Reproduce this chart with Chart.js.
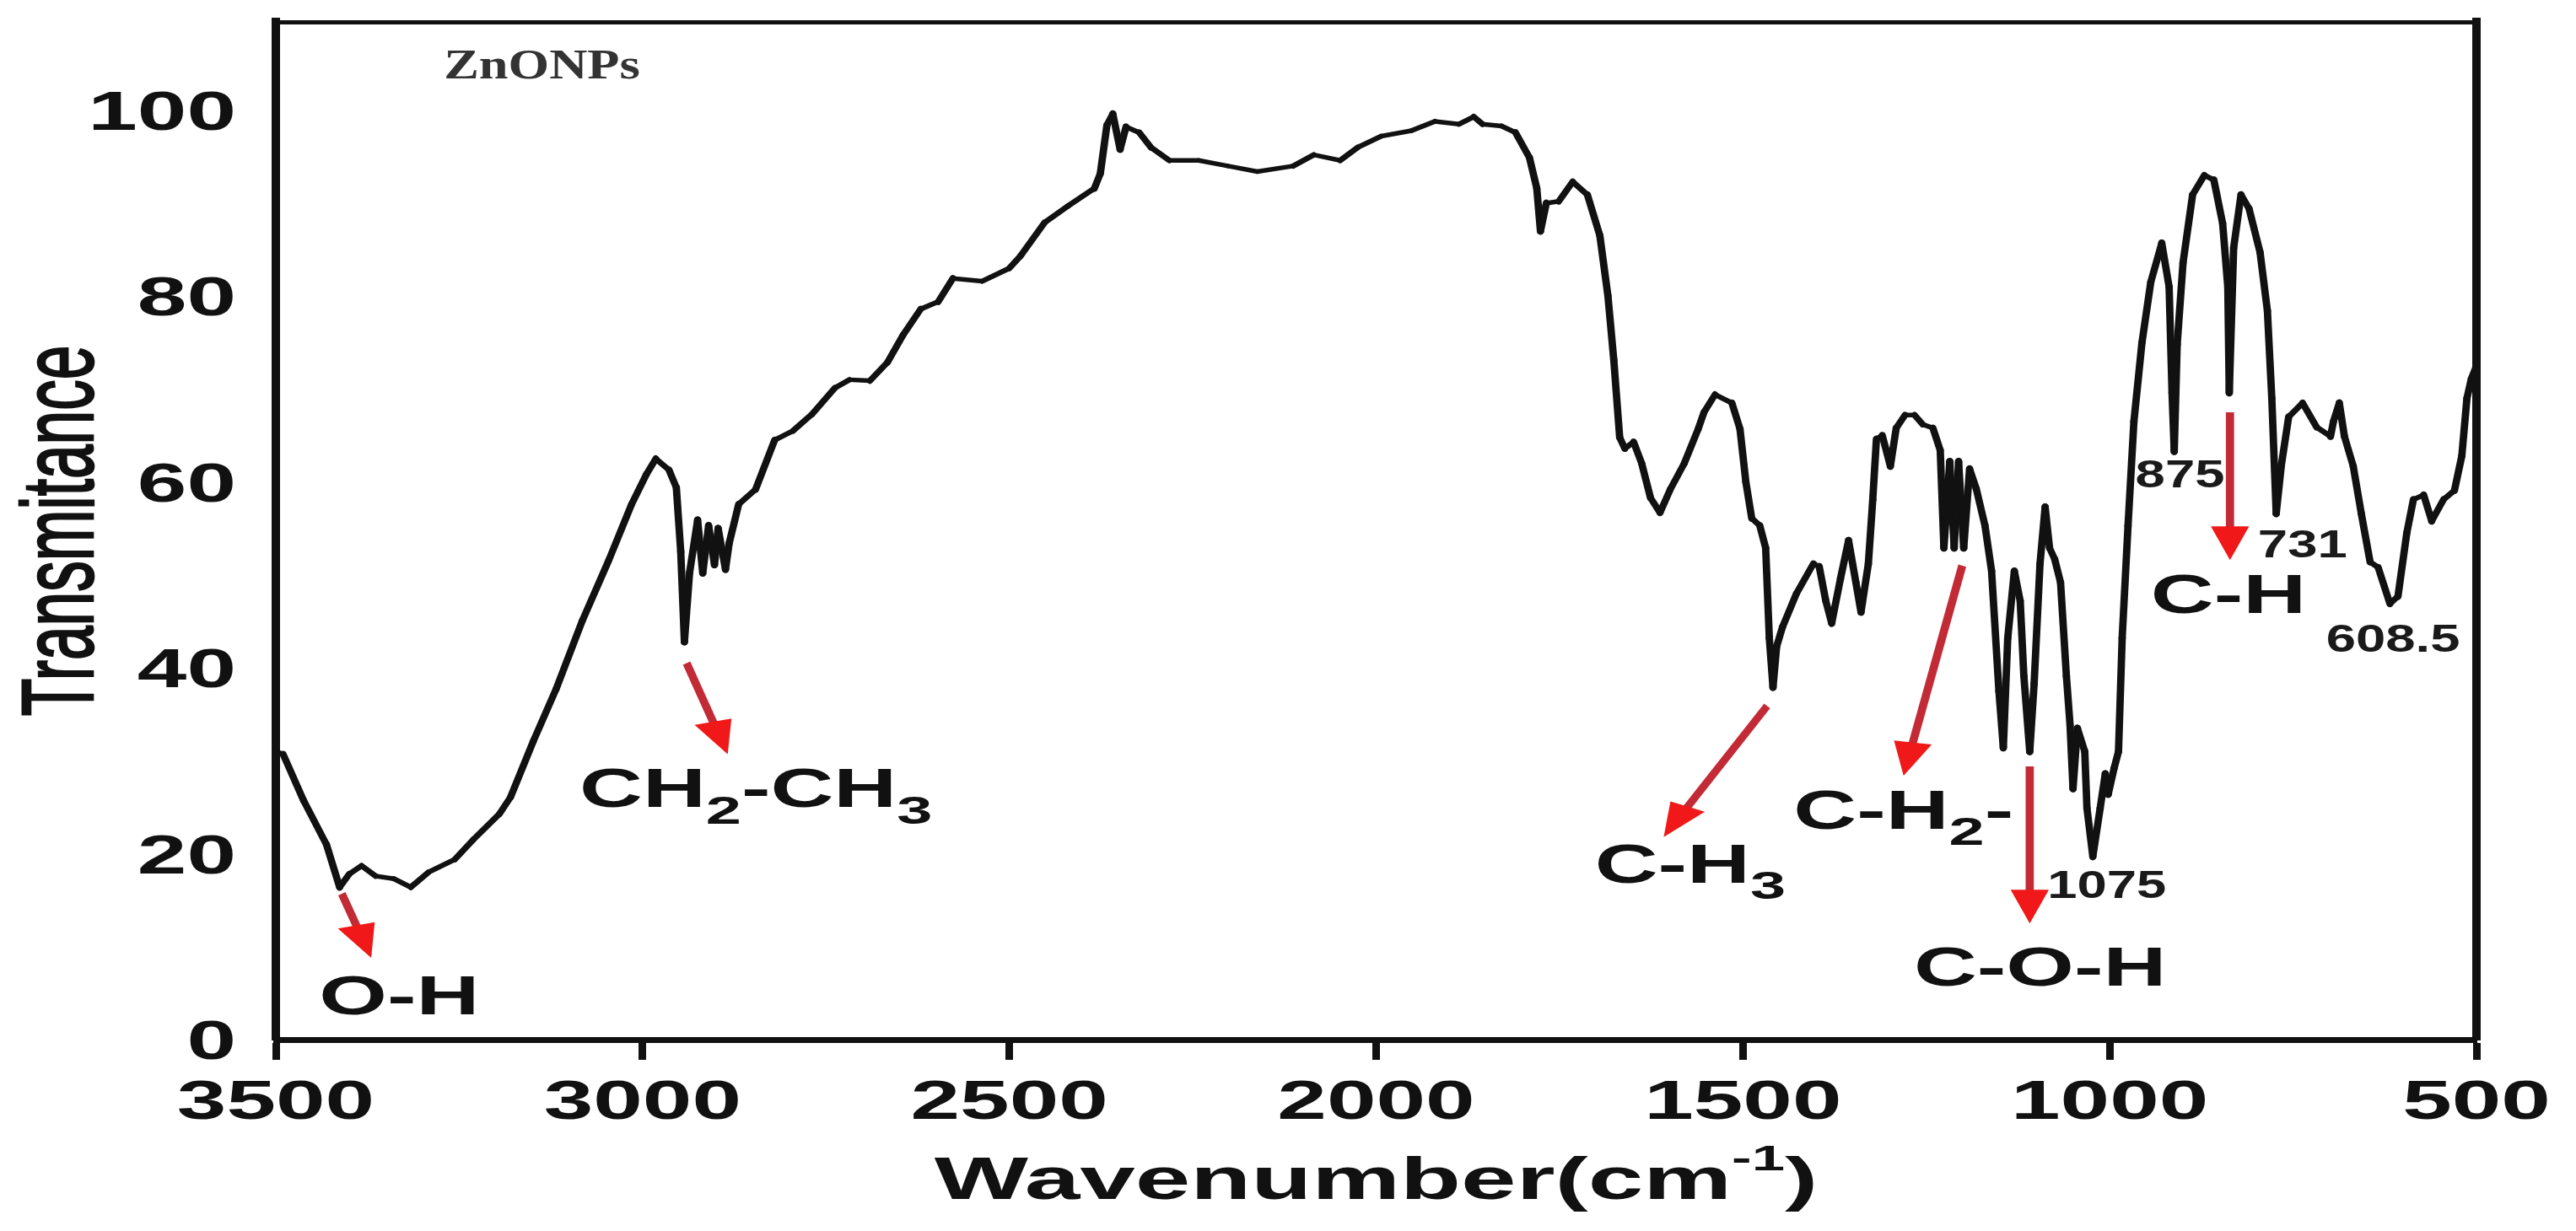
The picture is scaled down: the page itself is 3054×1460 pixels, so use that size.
<!DOCTYPE html>
<html>
<head>
<meta charset="utf-8">
<title>ZnONPs FTIR</title>
<script src="https://cdn.jsdelivr.net/npm/chart.js@4.4.1/dist/chart.umd.min.js"></script>
<style>
  html, body { margin: 0; padding: 0; background: #fff; }
</style>
</head>
<body>
<canvas id="ftir" width="3054" height="1460"></canvas>
<script>
// spectrum, high to low wavenumber
const wavenumber = [
  3500, 3490, 3462, 3431, 3413, 3400, 3383, 3364, 3339, 3316, 3292, 3256, 3231, 3195, 3180,
  3149, 3118, 3082, 3046, 3015, 2995, 2982, 2964, 2954, 2948, 2943, 2936, 2925, 2918, 2910,
  2902, 2897, 2887, 2882, 2869, 2846, 2820, 2795, 2769, 2738, 2718,
  2690, 2666, 2645, 2621, 2597, 2577, 2537, 2500, 2485, 2452, 2420, 2384, 2376, 2367, 2359,
  2349, 2341, 2323, 2307, 2282, 2242, 2202, 2162, 2113, 2085, 2049, 2025, 1993, 1952, 1920,
  1887, 1867, 1855, 1829,
  1810, 1791, 1781, 1776, 1768, 1751, 1732, 1712, 1695, 1684, 1676, 1668, 1661, 1649, 1638,
  1626, 1613, 1599, 1580, 1561, 1553, 1538, 1515, 1504, 1496, 1488, 1477, 1469, 1464, 1459,
  1454, 1446, 1427, 1404, 1396, 1387, 1379, 1367, 1356, 1346, 1339, 1329, 1323, 1318, 1310,
  1299, 1291, 1279, 1266, 1255, 1241, 1231, 1226, 1218, 1212, 1206, 1199, 1191, 1182, 1170,
  1161, 1151, 1145, 1139, 1130, 1122, 1117, 1109, 1103, 1095, 1088, 1082, 1075, 1067, 1059,
  1054, 1050, 1044, 1034, 1031, 1023, 1013, 1006, 1002, 994, 988, 983, 975, 967, 956,
  944, 929, 919, 915, 912, 908, 900, 887, 871, 858, 846, 839, 837, 831, 821,
  810, 795, 785, 779, 773, 766, 756, 737, 718, 699, 695, 687, 680, 668, 657,
  645, 634, 618, 607, 595, 586, 572, 561, 545, 530, 520, 513, 507, 500
];
const transmittance = [
  31.0, 30.7, 25.7, 21.0, 16.4, 17.8, 18.7, 17.6, 17.3, 16.4, 18.0, 19.4, 21.5, 24.3, 26.1,
  32.1, 37.7, 45.1, 51.6, 57.6, 60.8, 62.5, 61.3, 59.4, 52.5, 42.8, 50.2, 55.9, 50.2, 55.3,
  51.1, 55.0, 50.6, 53.4, 57.6, 59.2, 64.5, 65.5, 67.3, 70.1, 71.0,
  70.9, 72.9, 75.8, 78.6, 79.4, 81.9, 81.6, 83.0, 84.3, 87.9, 89.7, 91.6, 93.2, 98.4, 99.6,
  95.8, 98.2, 97.6, 96.0, 94.6, 94.6, 94.0, 93.4, 94.0, 95.2, 94.6, 96.0, 97.2, 97.8, 98.8,
  98.5, 99.3, 98.5, 98.3,
  97.6, 94.9, 91.6, 87.0, 90.0, 90.2, 92.3, 90.9, 86.5, 80.0, 73.1, 64.8, 63.6, 64.3, 62.0,
  58.3, 56.7, 59.2, 62.0, 65.7, 67.5, 69.4, 68.5, 65.7, 60.0, 56.1, 55.3, 52.9, 43.2, 37.9,
  42.3, 44.4, 48.0, 51.2, 50.9, 47.2, 44.8, 49.6, 53.7, 49.2, 46.0, 51.2, 58.1, 64.6, 65.0,
  61.7, 65.8, 67.2, 67.2, 66.2, 65.8, 63.4, 52.9, 62.2, 52.9, 62.2, 52.9, 61.4, 59.3, 55.3,
  50.4, 37.5, 31.4, 43.2, 50.4, 47.2, 39.1, 31.0, 38.3, 51.2, 57.3, 52.9, 51.7, 49.2, 39.1,
  33.8, 27.0, 33.5, 31.0, 24.9, 19.7, 24.9, 28.6, 26.4, 29.2, 31.0, 43.2, 55.3, 66.5, 75.0,
  81.5, 85.7, 81.0, 69.6, 63.3, 74.8, 83.6, 90.9, 93.0, 92.5, 87.8, 81.0, 69.6, 85.2, 90.9,
  89.4, 84.7, 78.4, 69.0, 56.6, 61.8, 67.0, 68.5, 65.9, 64.9, 66.5, 68.5, 64.9, 61.7, 56.6,
  51.4, 50.8, 46.9, 47.7, 54.5, 58.1, 58.6, 55.8, 58.1, 59.1, 62.8, 69.0, 71.1, 72.5
];

const xTicks = [3500, 3000, 2500, 2000, 1500, 1000, 500];
const yTicks = [0, 20, 40, 60, 80, 100];

// red arrows: from [wn, T] to tip [wn, T]
const arrows = [
  [3410, 15.7, 3370, 8.8],
  [2940, 40.5, 2884, 30.7],
  [1467, 35.9, 1608, 21.8],
  [1201, 51.0, 1281, 28.4],
  [1109, 29.4, 1109, 12.5],
  [836, 67.5, 836, 51.6]
];

// band labels, left edge + baseline in data units; 1 = subscript
const bandLabels = [
  { wn: 3441, t: 2.7, parts: [['O-H', 0]] },
  { wn: 3086, t: 25.0, parts: [['CH', 0], ['2', 1], ['-CH', 0], ['3', 1]] },
  { wn: 1702, t: 16.9, parts: [['C-H', 0], ['3', 1]] },
  { wn: 1431, t: 22.7, parts: [['C-H', 0], ['2', 1], ['-', 0]] },
  { wn: 1267, t: 5.8, parts: [['C-O-H', 0]] },
  { wn: 944, t: 45.9, parts: [['C-H', 0]] }
];
const peakLabels = [
  { wn: 1085, t: 15.2, text: '1075' },
  { wn: 965, t: 59.4, text: '875' },
  { wn: 798, t: 51.9, text: '731' },
  { wn: 705, t: 41.7, text: '608.5' }
];

const K = 1.62;      // the original figure is stretched sideways
const PEN = 5.4;
const SANS = '"Liberation Sans", Arial, sans-serif';

function drawParts(ctx, parts, x, y, size, sx, align) {
  ctx.save();
  const fontFor = m => `bold ${m === 1 ? size * 0.73 : m === 2 ? size * 0.6 : size}px ${SANS}`;
  let w = 0;
  for (const [t, m] of parts) { ctx.font = fontFor(m); w += ctx.measureText(t).width; }
  ctx.translate(align === 'center' ? x - w * sx / 2 : x, y);
  ctx.scale(sx, 1);
  ctx.textAlign = 'left';
  ctx.textBaseline = 'alphabetic';
  let cx = 0;
  for (const [t, m] of parts) {
    ctx.font = fontFor(m);
    const dy = m === 1 ? size * 0.3 : m === 2 ? -size * 0.48 : 0;
    ctx.fillText(t, cx, dy);
    cx += ctx.measureText(t).width;
  }
  ctx.restore();
}

function drawArrow(ctx, x0, y0, x1, y1) {
  // work in unstretched space so the head gets the same sideways stretch
  const ux0 = x0 / K, ux1 = x1 / K;
  const dx = ux1 - ux0, dy = y1 - y0;
  const len = Math.hypot(dx, dy);
  const ex = dx / len, ey = dy / len;
  const headLen = 40, headHalf = 14;
  const bx = ux1 - ex * headLen, by = y1 - ey * headLen;
  ctx.save();
  ctx.strokeStyle = '#c22a35';
  ctx.lineWidth = 6 * Math.sqrt((K * ey) ** 2 + ex ** 2);
  ctx.beginPath();
  ctx.moveTo(x0, y0);
  ctx.lineTo((bx + ex * 4) * K, by + ey * 4);
  ctx.stroke();
  ctx.fillStyle = '#f01818';
  ctx.beginPath();
  ctx.moveTo(ux1 * K, y1);
  ctx.lineTo((bx - ey * headHalf) * K, by + ex * headHalf);
  ctx.lineTo((bx + ey * headHalf) * K, by - ex * headHalf);
  ctx.closePath();
  ctx.fill();
  ctx.restore();
}

const textPlugin = {
  id: 'figureText',
  afterDraw(chart) {
    const { ctx, chartArea: area } = chart;
    const xs = chart.scales.x, ys = chart.scales.y;
    ctx.save();
    ctx.fillStyle = '#111';

    // tick labels
    xTicks.forEach(v => drawParts(ctx, [[String(v), 0]], xs.getPixelForValue(v), area.bottom + 94, 65, K, 'center'));
    yTicks.forEach(v => {
      ctx.font = `bold 65px ${SANS}`;
      const w = ctx.measureText(String(v)).width * K;
      drawParts(ctx, [[String(v), 0]], area.left - 47 - w, ys.getPixelForValue(v) + 23, 65, K, 'left');
    });

    // axis titles
    drawParts(ctx, [['Wavenumber(cm', 0], ['-1', 2], [')', 0]], (area.left + area.right) / 2, area.bottom + 189, 71, 1.66, 'center');
    ctx.save();
    ctx.translate(110, (area.top + area.bottom) / 2);
    ctx.rotate(-Math.PI / 2);
    ctx.scale(1, 1.65);
    ctx.font = `73px ${SANS}`;
    ctx.textAlign = 'center';
    ctx.textBaseline = 'alphabetic';
    ctx.strokeStyle = '#111';
    ctx.lineWidth = 1.6;
    ctx.fillText('Transmitance', 0, 0);
    ctx.strokeText('Transmitance', 0, 0);
    ctx.restore();

    // sample name
    ctx.save();
    ctx.fillStyle = '#333';
    ctx.translate(xs.getPixelForValue(3271), ys.getPixelForValue(103.4));
    ctx.scale(1.25, 1);
    ctx.font = 'bold 50px "Liberation Serif", "Times New Roman", serif';
    ctx.fillText('ZnONPs', 0, 0);
    ctx.restore();

    arrows.forEach(a => drawArrow(ctx,
      xs.getPixelForValue(a[0]), ys.getPixelForValue(a[1]),
      xs.getPixelForValue(a[2]), ys.getPixelForValue(a[3])));

    bandLabels.forEach(l => drawParts(ctx, l.parts, xs.getPixelForValue(l.wn), ys.getPixelForValue(l.t), 64, K, 'left'));

    ctx.fillStyle = '#1a1a1a';
    peakLabels.forEach(l => drawParts(ctx, [[l.text, 0]], xs.getPixelForValue(l.wn), ys.getPixelForValue(l.t), 47, 1.35, 'left'));
    ctx.restore();
  }
};

const frameScale = (pos, size, border) => ({
  type: 'linear', position: pos, display: true,
  min: pos === 'top' ? 500 : 0, max: pos === 'top' ? 3500 : 109.5,
  reverse: pos === 'top',
  grid: { display: false },
  ticks: { display: false },
  border: { display: true, width: border, color: '#111' },
  afterFit: s => { if (s.isHorizontal()) s.height = size; else s.width = size; }
});

new Chart(document.getElementById('ftir'), {
  type: 'line',
  data: {
    datasets: [{
      data: wavenumber.map((w, i) => ({ x: w, y: transmittance[i] })),
      borderColor: '#111',
      borderWidth: PEN,
      borderCapStyle: 'round',
      borderJoinStyle: 'round',
      pointRadius: 0,
      tension: 0,
      segment: {
        borderWidth: c => {
          const dx = c.p1.x - c.p0.x, dy = c.p1.y - c.p0.y;
          const len = Math.hypot(dx, dy) || 1;
          return PEN * Math.sqrt((K * dy / len) ** 2 + (dx / len) ** 2);
        },
        borderCapStyle: () => 'round'
      }
    }]
  },
  options: {
    responsive: false,
    animation: false,
    layout: { padding: 0 },
    plugins: { legend: { display: false }, tooltip: { enabled: false } },
    scales: {
      x: {
        type: 'linear', position: 'bottom', min: 500, max: 3500, reverse: true,
        afterBuildTicks: s => { s.ticks = xTicks.map(v => ({ value: v })); },
        ticks: { display: false },
        grid: { display: true, drawOnChartArea: false, drawTicks: true, tickLength: 24, tickWidth: 9, tickColor: '#111' },
        border: { display: true, width: 7, color: '#111' },
        afterFit: s => { s.height = 1460 - 1233; }
      },
      y: {
        type: 'linear', position: 'left', min: 0, max: 109.5,
        afterBuildTicks: s => { s.ticks = yTicks.map(v => ({ value: v })); },
        ticks: { display: false },
        grid: { display: false },
        border: { display: true, width: 10, color: '#111' },
        afterFit: s => { s.width = 327; }
      },
      x2: frameScale('top', 26, 5),
      y2: frameScale('right', 3054 - 2936, 10)
    }
  },
  plugins: [textPlugin]
});
</script>
</body>
</html>
